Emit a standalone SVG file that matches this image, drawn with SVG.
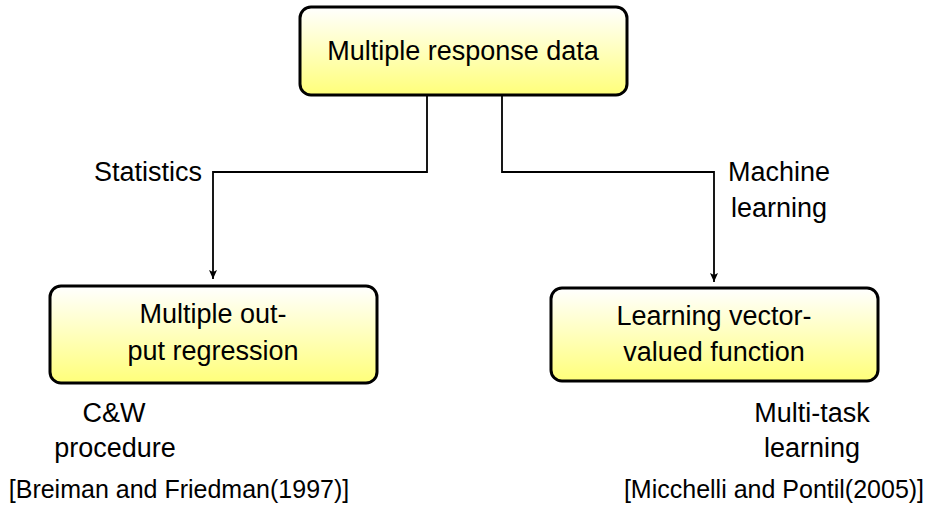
<svg xmlns="http://www.w3.org/2000/svg" width="934" height="507" viewBox="0 0 934 507">
<defs>
<linearGradient id="yg" x1="0" y1="0" x2="0" y2="1">
<stop offset="0" stop-color="#ffffff"/>
<stop offset="1" stop-color="#ffff7a"/>
</linearGradient>
<marker id="arr" markerWidth="10" markerHeight="10" refX="9" refY="5" orient="auto" markerUnits="userSpaceOnUse">
<path d="M0,1 L9,5 L0,9 L2,5 Z" fill="#000"/>
</marker>
<style>
.box{fill:url(#yg);stroke:#000;stroke-width:3}
.t{font-family:"Liberation Sans","DejaVu Sans",sans-serif;font-size:27px;fill:#000;text-anchor:middle}
.cite{font-size:25px}
.c{fill:none;stroke:#000;stroke-width:1.8}
</style>
</defs>
<rect width="934" height="507" fill="#fff"/>
<g id="connectors">
<path class="c" d="M427,96 V172 H213 V279" marker-end="url(#arr)"/>
<path class="c" d="M502,96 V172 H714 V282" marker-end="url(#arr)"/>
<text class="t" x="148" y="181">Statistics</text>
<text class="t" x="779" y="181">Machine</text>
<text class="t" x="779" y="217">learning</text>
</g>
<g id="top">
<rect class="box" x="300" y="7" width="327" height="88" rx="11"/>
<text class="t" x="463" y="60">Multiple response data</text>
</g>
<g id="left">
<rect class="box" x="50" y="286" width="327" height="97" rx="11"/>
<text class="t" x="213" y="323">Multiple out-</text>
<text class="t" x="213" y="360">put regression</text>
</g>
<g id="right">
<rect class="box" x="551" y="288" width="327" height="93" rx="11"/>
<text class="t" x="714" y="325">Learning vector-</text>
<text class="t" x="714" y="361">valued function</text>
</g>
<g id="left-notes">
<text class="t" x="114" y="422">C&amp;W</text>
<text class="t" x="115" y="457">procedure</text>
<text class="t cite" x="179" y="498">[Breiman and Friedman(1997)]</text>
</g>
<g id="right-notes">
<text class="t" x="812" y="422">Multi-task</text>
<text class="t" x="812" y="457">learning</text>
<text class="t cite" x="774" y="498">[Micchelli and Pontil(2005)]</text>
</g>
</svg>
